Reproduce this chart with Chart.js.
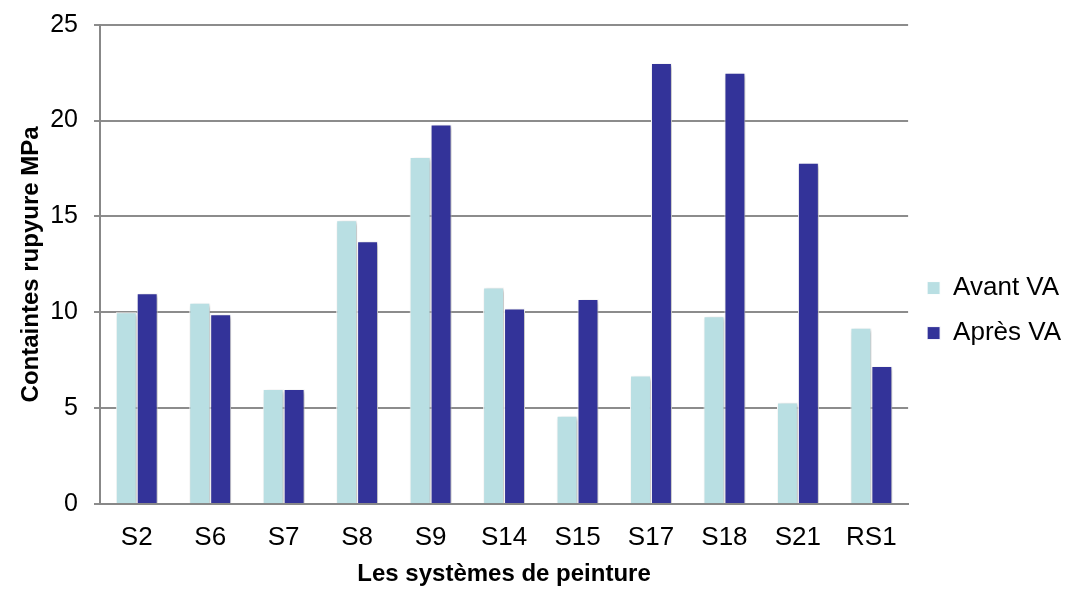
<!DOCTYPE html>
<html><head><meta charset="utf-8">
<script src="https://cdn.jsdelivr.net/npm/chart.js@4/dist/chart.umd.min.js"></script>
<style>html,body{margin:0;padding:0;background:#fff}#wrap{width:1072px;height:592px}</style>
</head><body><div id="wrap"><canvas id="c" width="1072" height="592"></canvas></div>
<script>
const categories = ["S2","S6","S7","S8","S9","S14","S15","S17","S18","S21","RS1"];
const avantVA = [10.0,10.5,6.0,14.8,18.1,11.3,4.6,6.7,9.8,5.3,9.2];
const apresVA = [11.0,9.9,6.0,13.7,19.8,10.2,10.7,23.0,22.5,17.8,7.2];
const yTicks = [0,5,10,15,20,25];
const seriesNames = ["Avant VA","Après VA"];
const yTitle = "Containtes rupyure MPa";
const xTitle = "Les systèmes de peinture";

const FONT = "'Liberation Sans', Arial, sans-serif";
const shadowPlugin = {
  id:'shadow',
  beforeDatasetsDraw(chart){const c=chart.ctx;c.save();c.shadowColor='rgba(0,0,0,0.28)';c.shadowBlur=4;c.shadowOffsetX=2;c.shadowOffsetY=2;},
  afterDatasetsDraw(chart){chart.ctx.restore();}
};
new Chart(document.getElementById('c'), {
  type:'bar',
  data:{labels:categories, datasets:[
    {label:seriesNames[0], data:avantVA, backgroundColor:'#B9DFE3', borderColor:'#ffffff', borderWidth:1},
    {label:seriesNames[1], data:apresVA, backgroundColor:'#333399', borderColor:'#ffffff', borderWidth:1}
  ]},
  options:{
    responsive:false, animation:false,
    layout:{padding:{left:0,right:1,top:6,bottom:3}},
    datasets:{bar:{categoryPercentage:0.57,barPercentage:1}},
    plugins:{
      legend:{position:'right',align:'center',
        title:{display:true,text:' ',font:{size:1},padding:12.5},
        labels:{font:{family:FONT,size:26},color:'#000',boxWidth:13,boxHeight:13,padding:19}},
      tooltip:{enabled:false}
    },
    scales:{
      x:{grid:{display:false},border:{color:'#888',width:2},
         ticks:{font:{family:FONT,size:26},color:'#000',padding:10},
         title:{display:true,text:xTitle,font:{family:FONT,size:24,weight:'bold'},color:'#000',padding:{top:-3,bottom:0}}},
      y:{min:0,max:25,afterBuildTicks(a){a.ticks=yTicks.map(v=>({value:v}));},
         afterFit(a){a.width=100;},
         grid:{color:'#8c8c8c',lineWidth:2,tickLength:6},border:{color:'#888',width:2},
         ticks:{font:{family:FONT,size:25,lineHeight:0.7},color:'#000',padding:16},
         title:{display:true,text:yTitle,font:{family:FONT,size:24,weight:'bold'},color:'#000',padding:{top:17,bottom:0}}}
    }
  },
  plugins:[shadowPlugin]
});
</script></body></html>
